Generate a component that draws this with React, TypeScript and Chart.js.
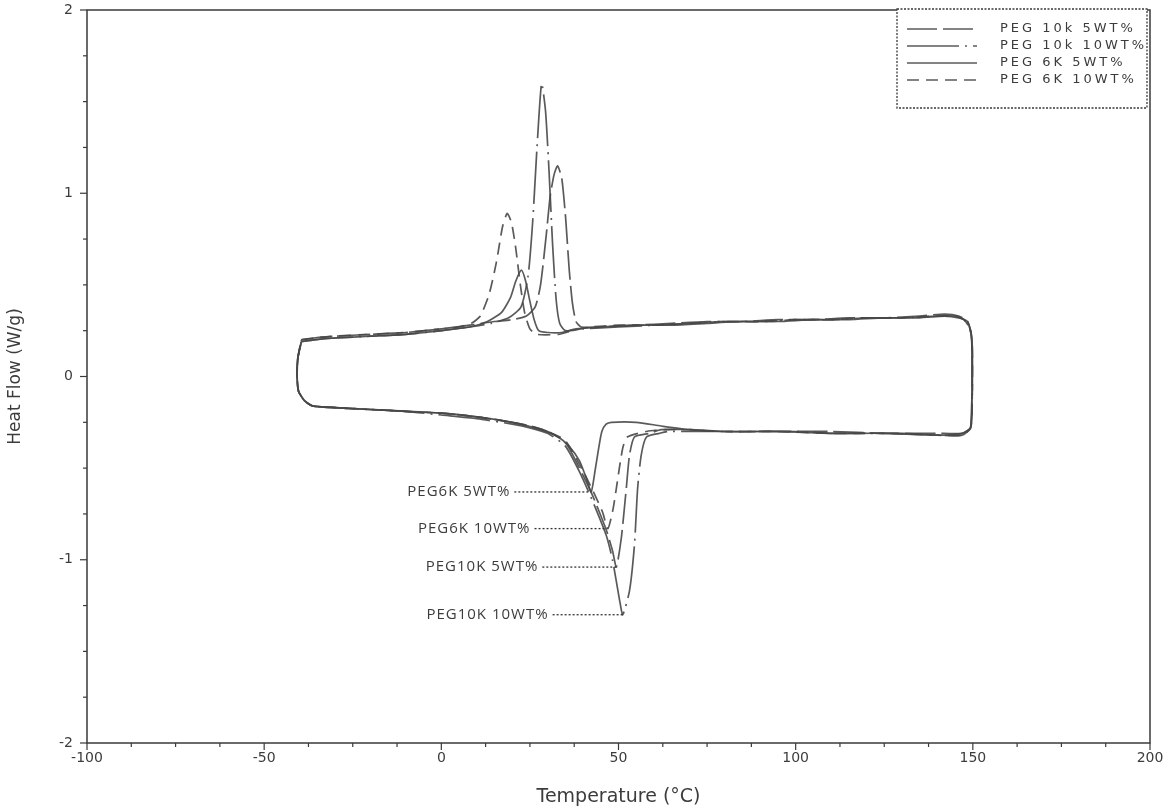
import React, { useEffect, useRef } from 'react';
import { Chart, registerables } from 'chart.js';

Chart.register(...registerables);

// ---------- axes ----------
const xMin = -100;
const xMax = 200;
const xMajorStep = 50;
const xMinorStep = 12.5;
const yMin = -2;
const yMax = 2;
const yMajorStep = 1;
const yMinorStep = 0.25;
const xTitle = 'Temperature (°C)';
const yTitle = 'Heat Flow (W/g)';

// ---------- series ----------
const seriesLabels = ['PEG 10k 5WT%', 'PEG 10k 10WT%', 'PEG 6K 5WT%', 'PEG 6K 10WT%'];

// PEG 10k 5WT% : cooling branch (upper, left -> right) and heating branch (lower, right -> left)
const k10w5CoolT = [-39.5, -36, -30, -20, -10, 0, 8, 15, 20, 24, 26.5, 28, 29.6, 30.7, 31.8, 32.8, 34, 35.1, 36.1, 37, 38, 39.5, 45, 55, 65, 75, 85, 95, 105, 115, 125, 135, 142, 146, 148.5, 149.6, 149.8, 149.7, 149.3, 147];
const k10w5CoolQ = [0.2, 0.21, 0.22, 0.23, 0.24, 0.26, 0.28, 0.3, 0.31, 0.33, 0.38, 0.5, 0.77, 0.98, 1.1, 1.15, 1.08, 0.86, 0.58, 0.4, 0.3, 0.27, 0.27, 0.28, 0.29, 0.3, 0.3, 0.31, 0.31, 0.32, 0.32, 0.33, 0.34, 0.33, 0.3, 0.22, 0.05, -0.15, -0.28, -0.31];
const k10w5HeatT = [140, 125, 110, 95, 80, 70, 62, 58.8, 54.5, 53.1, 52.2, 50.8, 49.4, 48.3, 46.6, 42.7, 39, 35, 30, 25, 20, 10, 0, -10, -20, -30, -36.4, -38.7, -40.3, -40.7, -40.5];
const k10w5HeatQ = [-0.31, -0.31, -0.3, -0.3, -0.3, -0.29, -0.29, -0.31, -0.33, -0.43, -0.61, -0.88, -1.04, -0.95, -0.84, -0.65, -0.5, -0.36, -0.3, -0.27, -0.25, -0.22, -0.2, -0.19, -0.18, -0.17, -0.16, -0.13, -0.08, 0.0, 0.1];

// PEG 10k 10WT%
const k10w10CoolT = [-39.5, -36, -30, -20, -10, 0, 8, 14, 19, 22.5, 24.5, 25.8, 27.0, 28.3, 29.4, 30.4, 31.4, 32.4, 33.4, 35, 40, 50, 60, 70, 80, 90, 100, 110, 120, 130, 140, 145, 147.5, 149.2, 149.8, 149.9, 149.8, 149.4, 147];
const k10w10CoolQ = [0.19, 0.2, 0.21, 0.22, 0.23, 0.25, 0.27, 0.29, 0.32, 0.38, 0.55, 0.85, 1.25, 1.6, 1.45, 1.12, 0.72, 0.42, 0.29, 0.25, 0.26, 0.27, 0.28, 0.29, 0.3, 0.3, 0.31, 0.31, 0.32, 0.32, 0.33, 0.33, 0.31, 0.26, 0.18, 0.05, -0.15, -0.28, -0.32];
const k10w10HeatT = [140, 130, 120, 110, 100, 90, 80, 70, 64, 61.6, 57.9, 56.4, 55.4, 54.5, 53.1, 51.2, 50.3, 48.3, 46.6, 42.7, 39, 35, 30, 25, 20, 10, 0, -10, -20, -30, -36.4, -38.7, -40.3, -40.7, -40.5];
const k10w10HeatQ = [-0.32, -0.31, -0.31, -0.31, -0.3, -0.3, -0.3, -0.3, -0.3, -0.31, -0.33, -0.43, -0.61, -0.92, -1.17, -1.3, -1.22, -1.0, -0.87, -0.68, -0.52, -0.38, -0.31, -0.28, -0.26, -0.23, -0.21, -0.19, -0.18, -0.17, -0.16, -0.13, -0.08, 0.0, 0.1];

// PEG 6K 5WT%
const k6w5CoolT = [-39.5, -36, -30, -20, -10, 0, 8, 13, 17, 19.5, 21, 22.6, 23.8, 25, 26.2, 27.5, 30, 34, 38, 45, 55, 65, 75, 85, 95, 105, 115, 125, 135, 142, 146, 148.5, 149.6, 149.8, 149.7, 149.3, 147];
const k6w5CoolQ = [0.19, 0.2, 0.21, 0.22, 0.23, 0.25, 0.27, 0.3, 0.35, 0.43, 0.52, 0.58, 0.52, 0.41, 0.31, 0.25, 0.24, 0.24, 0.26, 0.27, 0.28, 0.28, 0.29, 0.3, 0.3, 0.31, 0.31, 0.32, 0.32, 0.33, 0.32, 0.3, 0.23, 0.05, -0.15, -0.28, -0.31];
const k6w5HeatT = [140, 125, 110, 95, 80, 70, 62, 55, 48, 46.5, 45.3, 44.5, 43.5, 42.3, 41, 39, 36, 33, 28, 20, 10, 0, -10, -20, -30, -36.4, -38.7, -40.3, -40.7, -40.5];
const k6w5HeatQ = [-0.32, -0.31, -0.31, -0.3, -0.3, -0.29, -0.27, -0.25, -0.25, -0.26, -0.3, -0.38, -0.5, -0.63, -0.56, -0.46, -0.38, -0.33, -0.29, -0.25, -0.22, -0.2, -0.19, -0.18, -0.17, -0.16, -0.13, -0.08, 0.0, 0.1];

// PEG 6K 10WT%
const k6w10CoolT = [-39.5, -36, -30, -20, -10, 0, 5, 8.5, 11, 13.5, 15.5, 17.3, 18.6, 19.8, 21, 22.3, 23.5, 25, 27, 33, 37, 42, 50, 60, 70, 80, 90, 100, 110, 120, 130, 140, 145, 147.5, 149.2, 149.8, 149.9, 149.8, 149.4, 147];
const k6w10CoolQ = [0.2, 0.21, 0.22, 0.23, 0.24, 0.26, 0.27, 0.29, 0.33, 0.45, 0.62, 0.82, 0.89, 0.84, 0.7, 0.5, 0.35, 0.26, 0.23, 0.23, 0.25, 0.27, 0.28, 0.28, 0.29, 0.3, 0.3, 0.31, 0.31, 0.32, 0.32, 0.33, 0.33, 0.31, 0.26, 0.18, 0.05, -0.15, -0.28, -0.32];
const k6w10HeatT = [140, 125, 110, 95, 80, 70, 62, 57.9, 52.5, 51.2, 49.7, 48.5, 47, 45.5, 42.7, 39, 35, 30, 25, 20, 10, 0, -10, -20, -30, -36.4, -38.7, -40.3, -40.7, -40.5];
const k6w10HeatQ = [-0.32, -0.31, -0.31, -0.3, -0.3, -0.29, -0.29, -0.3, -0.33, -0.39, -0.57, -0.72, -0.83, -0.74, -0.62, -0.48, -0.35, -0.3, -0.27, -0.25, -0.22, -0.2, -0.19, -0.18, -0.17, -0.16, -0.13, -0.08, 0.0, 0.1];

// ---------- callouts (melting peaks) ----------
const calloutLabels = ['PEG6K 5WT%', 'PEG6K 10WT%', 'PEG10K 5WT%', 'PEG10K 10WT%'];
const calloutPeakT = [41.8, 46.9, 49.4, 51.4];
const calloutPeakQ = [-0.63, -0.83, -1.04, -1.3];
const calloutLeaderStartT = [20.6, 26.3, 28.5, 31.4];

// ---------- styles ----------
const lineColor = 'rgba(72,72,72,0.9)';
const textColor = '#3c3c3c';
const seriesDash: number[][] = [[30, 6], [52, 6, 2, 6], [], [12, 7]];

function loop(ct: number[], cq: number[], ht: number[], hq: number[]) {
  const pts: { x: number; y: number }[] = [];
  ct.forEach((t, i) => pts.push({ x: t, y: cq[i] }));
  ht.forEach((t, i) => pts.push({ x: t, y: hq[i] }));
  pts.push({ x: ct[0], y: cq[0] });
  return pts;
}

const seriesPoints = [
  loop(k10w5CoolT, k10w5CoolQ, k10w5HeatT, k10w5HeatQ),
  loop(k10w10CoolT, k10w10CoolQ, k10w10HeatT, k10w10HeatQ),
  loop(k6w5CoolT, k6w5CoolQ, k6w5HeatT, k6w5HeatQ),
  loop(k6w10CoolT, k6w10CoolQ, k6w10HeatT, k6w10HeatQ),
];

const frameTicksPlugin = {
  id: 'frameTicks',
  afterDraw(chart: any) {
    const { ctx, chartArea: a, scales } = chart;
    const xs = scales.x;
    const ys = scales.y;
    ctx.save();
    ctx.strokeStyle = '#3a3a3a';
    ctx.lineWidth = 1.5;
    ctx.strokeRect(a.left, a.top, a.right - a.left, a.bottom - a.top);
    ctx.lineWidth = 1.2;
    for (let v = xMin; v <= xMax + 1e-9; v += xMinorStep) {
      const px = xs.getPixelForValue(v);
      const major = Math.abs(v / xMajorStep - Math.round(v / xMajorStep)) < 1e-6;
      ctx.beginPath();
      ctx.moveTo(px, a.bottom);
      ctx.lineTo(px, a.bottom + (major ? 7 : 4));
      ctx.stroke();
    }
    for (let v = yMin; v <= yMax + 1e-9; v += yMinorStep) {
      const py = ys.getPixelForValue(v);
      const major = Math.abs(v / yMajorStep - Math.round(v / yMajorStep)) < 1e-6;
      ctx.beginPath();
      ctx.moveTo(a.left, py);
      ctx.lineTo(a.left - (major ? 7 : 4), py);
      ctx.stroke();
    }
    ctx.restore();
  },
};

const calloutPlugin = {
  id: 'callouts',
  afterDatasetsDraw(chart: any) {
    const { ctx, scales } = chart;
    const xs = scales.x;
    const ys = scales.y;
    ctx.save();
    ctx.font = '15px "Open Sans", "DejaVu Sans", sans-serif';
    (ctx as any).letterSpacing = '1px';
    ctx.fillStyle = textColor;
    ctx.textAlign = 'right';
    ctx.textBaseline = 'middle';
    calloutLabels.forEach((label, i) => {
      const y = ys.getPixelForValue(calloutPeakQ[i]);
      const x0 = xs.getPixelForValue(calloutLeaderStartT[i]);
      const x1 = xs.getPixelForValue(calloutPeakT[i]);
      ctx.fillText(label, x0 - 4, y);
      ctx.strokeStyle = '#333';
      ctx.lineWidth = 1.3;
      ctx.setLineDash([2, 2]);
      ctx.beginPath();
      ctx.moveTo(x0, y);
      ctx.lineTo(x1, y);
      ctx.stroke();
    });
    ctx.restore();
  },
};

const legendPlugin = {
  id: 'boxLegend',
  afterDraw(chart: any) {
    const { ctx, chartArea: a } = chart;
    const left = a.right - 253;
    const right = a.right - 3;
    const top = a.top - 1;
    const bottom = a.top + 98;
    ctx.save();
    ctx.fillStyle = '#fff';
    ctx.fillRect(left, top, right - left, bottom - top);
    ctx.strokeStyle = '#3a3a3a';
    ctx.lineWidth = 1.3;
    ctx.setLineDash([2, 1.5]);
    ctx.strokeRect(left, top, right - left, bottom - top);
    ctx.font = '13px "DejaVu Sans", sans-serif';
    (ctx as any).letterSpacing = '3px';
    ctx.fillStyle = textColor;
    ctx.textAlign = 'left';
    ctx.textBaseline = 'middle';
    chart.data.datasets.forEach((ds: any, i: number) => {
      const y = a.top + 19 + i * 17;
      ctx.strokeStyle = ds.borderColor;
      ctx.lineWidth = 1.6;
      ctx.setLineDash(ds.borderDash || []);
      ctx.beginPath();
      ctx.moveTo(left + 10, y);
      ctx.lineTo(left + 80, y);
      ctx.stroke();
      ctx.fillText(ds.label, left + 103, y);
    });
    ctx.restore();
  },
};

export default function App() {
  const canvasRef = useRef<HTMLCanvasElement>(null);

  useEffect(() => {
    const canvas = canvasRef.current;
    if (!canvas) return;
    const tickFont = { family: '"DejaVu Sans", sans-serif', size: 14 };
    const chart = new Chart(canvas, {
      type: 'line',
      data: {
        datasets: seriesLabels.map((label, i) => ({
          label,
          data: seriesPoints[i],
          borderColor: lineColor,
          borderWidth: 1.7,
          borderDash: seriesDash[i],
          pointRadius: 0,
          fill: false,
          tension: 0.2,
        })),
      },
      options: {
        responsive: false,
        animation: false,
        layout: { padding: { top: 10, right: 14, left: 0, bottom: 0 } },
        plugins: {
          legend: { display: false },
          tooltip: { enabled: false },
        },
        scales: {
          x: {
            type: 'linear',
            min: xMin,
            max: xMax,
            ticks: {
              stepSize: xMajorStep,
              autoSkip: false,
              maxRotation: 0,
              padding: 7,
              color: textColor,
              font: tickFont,
            },
            grid: { display: false, drawTicks: false },
            border: { display: false },
            title: {
              display: true,
              text: xTitle,
              color: textColor,
              font: { family: '"DejaVu Sans", sans-serif', size: 19 },
              padding: { top: 0, bottom: 2 },
            },
            afterFit(scale: any) {
              scale.height = 67;
              scale.paddingLeft = 0;
              scale.paddingRight = 0;
            },
          },
          y: {
            type: 'linear',
            min: yMin,
            max: yMax,
            ticks: {
              stepSize: yMajorStep,
              autoSkip: false,
              padding: 14,
              color: textColor,
              font: tickFont,
            },
            grid: { display: false, drawTicks: false },
            border: { display: false },
            title: {
              display: true,
              text: yTitle,
              color: textColor,
              font: { family: '"DejaVu Sans", sans-serif', size: 17 },
              padding: { top: 5, bottom: 0 },
            },
            afterFit(scale: any) {
              scale.width = 87;
              scale.paddingTop = 0;
              scale.paddingBottom = 0;
            },
          },
        },
      },
      plugins: [frameTicksPlugin, calloutPlugin, legendPlugin],
    } as any);
    return () => chart.destroy();
  }, []);

  return (
    <div style={{ position: 'absolute', left: 0, top: 0, width: 1164, height: 810, background: '#fff' }}>
      <canvas ref={canvasRef} width={1164} height={810} style={{ width: 1164, height: 810 }} />
    </div>
  );
}
